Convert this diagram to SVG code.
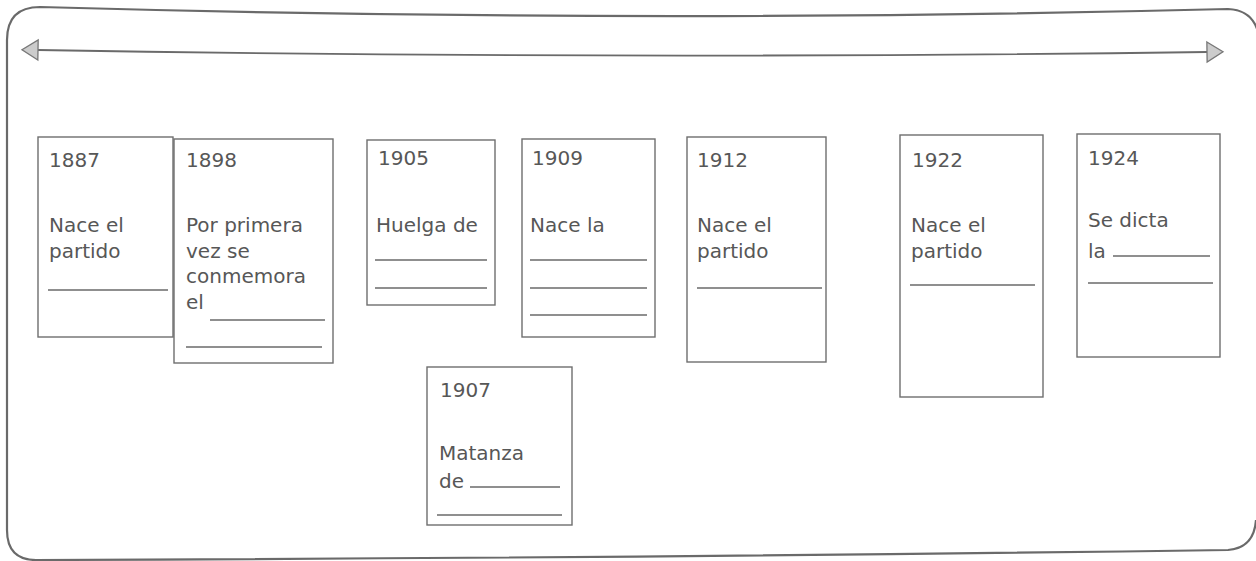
<svg xmlns="http://www.w3.org/2000/svg" width="1256" height="561" viewBox="0 0 1256 561">
<style>
.frame{fill:none;stroke:#6a6a6a;stroke-width:2.2}
.box{fill:#fff;stroke:#6e6e6e;stroke-width:1.4}
.t{font-family:"DejaVu Sans",Verdana,sans-serif;font-size:20px;fill:#575757}
.u{stroke:#6a6a6a;stroke-width:1.5}
.axis{fill:none;stroke:#6a6a6a;stroke-width:1.8}
</style>
<defs>
<marker id="ah" viewBox="0 0 20 24" refX="2" refY="12" markerWidth="20" markerHeight="24" markerUnits="userSpaceOnUse" orient="auto-start-reverse">
<path d="M2,2 L18,12 L2,22 Z" fill="#ccc" stroke="#777" stroke-width="1.3"/>
</marker>
</defs>
<rect width="1256" height="561" fill="#fff"/>
<path class="frame" d="M7,40 Q7,7 40,7 Q640,24 1228,9 Q1252,10 1258,32 M1256,520 Q1254,548 1228,550 Q640,558 36,560 Q7,560 7,530 L7,40"/>
<g id="connectors">
<path class="axis" d="M38,50 Q620,60 1207,52" marker-start="url(#ah)" marker-end="url(#ah)"/>
</g>
<g id="n1887">
<rect class="box" x="38" y="137" width="135" height="200"/>
<text class="t" x="49" y="167">1887</text>
<text class="t" x="49" y="232">Nace el</text>
<text class="t" x="49" y="258">partido</text>
<line class="u" x1="48" y1="290" x2="168" y2="290"/>
</g>
<g id="n1898">
<rect class="box" x="174" y="139" width="159" height="224"/>
<text class="t" x="186" y="167">1898</text>
<text class="t" x="186" y="232">Por primera</text>
<text class="t" x="186" y="258">vez se</text>
<text class="t" x="186" y="283">conmemora</text>
<text class="t" x="186" y="309">el</text>
<line class="u" x1="210" y1="320" x2="325" y2="320"/>
<line class="u" x1="186" y1="347" x2="322" y2="347"/>
</g>
<g id="n1905">
<rect class="box" x="367" y="140" width="128" height="165"/>
<text class="t" x="378" y="165">1905</text>
<text class="t" x="376" y="232">Huelga de</text>
<line class="u" x1="375" y1="260" x2="487" y2="260"/>
<line class="u" x1="375" y1="288" x2="487" y2="288"/>
</g>
<g id="n1909">
<rect class="box" x="522" y="139" width="133" height="198"/>
<text class="t" x="532" y="165">1909</text>
<text class="t" x="530" y="232">Nace la</text>
<line class="u" x1="530" y1="260" x2="647" y2="260"/>
<line class="u" x1="530" y1="288" x2="647" y2="288"/>
<line class="u" x1="530" y1="315" x2="647" y2="315"/>
</g>
<g id="n1907">
<rect class="box" x="427" y="367" width="145" height="158"/>
<text class="t" x="440" y="397">1907</text>
<text class="t" x="439" y="460">Matanza</text>
<text class="t" x="439" y="488">de</text>
<line class="u" x1="470" y1="487" x2="560" y2="487"/>
<line class="u" x1="437" y1="515" x2="562" y2="515"/>
</g>
<g id="n1912">
<rect class="box" x="687" y="137" width="139" height="225"/>
<text class="t" x="697" y="167">1912</text>
<text class="t" x="697" y="232">Nace el</text>
<text class="t" x="697" y="258">partido</text>
<line class="u" x1="697" y1="288" x2="822" y2="288"/>
</g>
<g id="n1922">
<rect class="box" x="900" y="135" width="143" height="262"/>
<text class="t" x="912" y="167">1922</text>
<text class="t" x="911" y="232">Nace el</text>
<text class="t" x="911" y="258">partido</text>
<line class="u" x1="910" y1="285" x2="1035" y2="285"/>
</g>
<g id="n1924">
<rect class="box" x="1077" y="134" width="143" height="223"/>
<text class="t" x="1088" y="165">1924</text>
<text class="t" x="1088" y="227">Se dicta</text>
<text class="t" x="1088" y="258">la</text>
<line class="u" x1="1113" y1="256" x2="1210" y2="256"/>
<line class="u" x1="1088" y1="283" x2="1213" y2="283"/>
</g>
</svg>
